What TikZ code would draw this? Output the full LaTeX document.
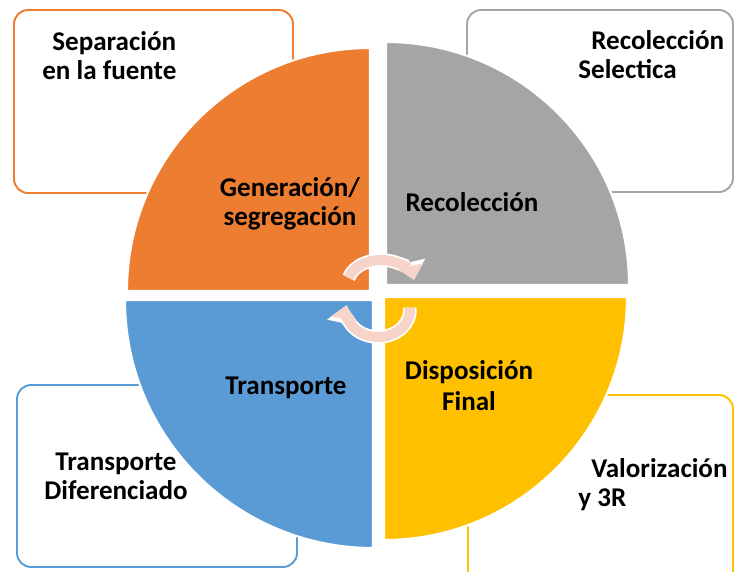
\documentclass[tikz,border=0pt]{standalone}
\usepackage{fontspec}
\setmainfont{Carlito}
\usetikzlibrary{arrows.meta}
\definecolor{genorange}{RGB}{237,125,49}
\definecolor{recgrey}{RGB}{165,165,165}
\definecolor{transblue}{RGB}{91,155,213}
\definecolor{dispyellow}{RGB}{255,192,0}
\definecolor{cyclepink}{RGB}{246,212,202}

\begin{document}
\begin{tikzpicture}[
    x=1cm,
    y=1cm,
    font=\fontsize{15.4}{16.5}\selectfont\bfseries,
    line join=round,
    sidebox/.style={
      line width=1.1pt,
      rounded corners=8pt,
      fill=white
    },
    quadrant/.style={
      draw=white,
      line width=1.2pt
    },
    label/.style={
      text=black,
      inner sep=0pt,
      align=center
    },
    sidelabel/.style={
      text=black,
      inner sep=0pt,
      align=left,
      anchor=west
    },
    cycleback/.style={
      draw=white,
      line width=0.27cm,
      -{Triangle[width=0.62cm,length=0.36cm]}
    },
    cyclefront/.style={
      draw=cyclepink,
      line width=0.20cm,
      -{Triangle[width=0.50cm,length=0.28cm]}
    }
]
\useasboundingbox (0,0) rectangle (14.70,11.42);

% Side boxes, partly hidden behind the pie.
\draw[sidebox,draw=genorange] (0.28,7.56) rectangle (5.86,11.22);
\draw[sidebox,draw=recgrey] (9.34,7.58) rectangle (14.66,11.22);
\draw[sidebox,draw=transblue] (0.34,0.08) rectangle (5.94,3.72);
\draw[sidebox,draw=dispyellow] (9.36,-0.40) rectangle (14.66,3.52);

% Pie quadrants, slightly pulled apart.
\path[quadrant,fill=genorange]
  (7.40,5.60) -- ++(-4.86,0) arc[start angle=180,end angle=90,radius=4.86] -- cycle;
\path[quadrant,fill=recgrey]
  (7.72,5.72) -- ++(0,4.86) arc[start angle=90,end angle=0,radius=4.86] -- cycle;
\path[quadrant,fill=transblue]
  (7.46,5.42) -- ++(-4.96,0) arc[start angle=180,end angle=270,radius=4.96] -- cycle;
\path[quadrant,fill=dispyellow]
  (7.68,5.48) -- ++(4.86,0) arc[start angle=0,end angle=-90,radius=4.86] -- cycle;

% Stage labels.
\node[label] (gen) at (5.80,7.34) {Generación/\\segregación};
\node[label] (rec) at (9.44,7.38) {Recolección};
\node[label] (tra) at (5.72,3.66) {Transporte};
\node[label,font=\fontsize{15.4}{17.5}\selectfont\bfseries] (dis) at (9.38,3.71)
  {Disposición\\Final};

% Box labels.
\node[sidelabel] (sep) at (0.84,10.30) {\hspace*{0.2cm}Separación\\en la fuente};
\node[sidelabel] (sel) at (11.56,10.32) {\hspace*{0.26cm}Recolección\\Selectica};
\node[label] (dif) at (2.32,1.90) {Transporte\\Diferenciado};
\node[sidelabel] (val) at (11.56,1.72) {\hspace*{0.26cm}Valorización\\y 3R};

% Cycle arrows in the centre.
\coordinate (topcycle) at (7.62,5.74);
\coordinate (botcycle) at (7.56,5.22);
\foreach \layer in {cycleback,cyclefront} {
  \draw[\layer] ([shift={(165:0.67 and 0.48)}]topcycle)
    arc[start angle=165,end angle=10,x radius=0.67,y radius=0.48];
  \draw[\layer] ([shift={(5:0.64 and 0.54)}]botcycle)
    arc[start angle=5,end angle=-190,x radius=0.64,y radius=0.54];
}

\end{tikzpicture}
\end{document}
